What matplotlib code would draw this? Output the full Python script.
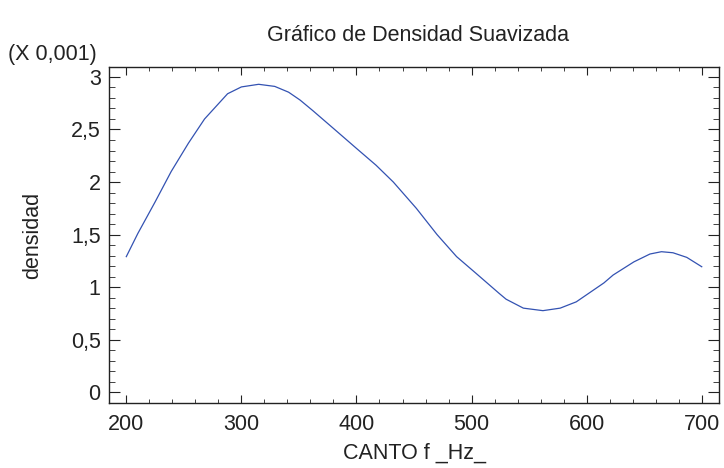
import matplotlib
matplotlib.use("Agg")
import matplotlib.pyplot as plt
from matplotlib.ticker import MultipleLocator, FuncFormatter

plt.rcParams["font.family"] = ["Liberation Sans", "DejaVu Sans"]

# densidad suavizada (en unidades de 0,001)
canto_hz = [200, 210, 225, 239, 254, 268, 288, 300, 315, 329, 341, 351, 362,
            380, 400, 417, 432, 452, 470, 487, 504, 524, 530, 545, 562, 577,
            591, 615, 623, 641, 655, 665, 675, 687, 700]
densidad = [1.29, 1.51, 1.81, 2.10, 2.37, 2.60, 2.84, 2.905, 2.93, 2.91, 2.855,
            2.78, 2.68, 2.51, 2.32, 2.16, 2.00, 1.75, 1.50, 1.29, 1.13, 0.94,
            0.885, 0.80, 0.776, 0.80, 0.86, 1.04, 1.115, 1.24, 1.315, 1.337,
            1.327, 1.283, 1.194]

title = "Gráfico de Densidad Suavizada"
xlabel = "CANTO f _Hz_"
ylabel = "densidad"
scale_note = "(X 0,001)"

FS = 15.5
INK = "#222222"


def comma_fmt(v, pos):
    return f"{v:g}".replace(".", ",")


fig = plt.figure(figsize=(7.24, 4.68), dpi=100)
ax = fig.add_axes([0.1506, 0.1395, 0.8425, 0.7163])

ax.plot(canto_hz, densidad, color="#3352b2", lw=0.9)

ax.set_xlim(185, 715)
ax.set_ylim(-0.1, 3.09)
ax.xaxis.set_major_locator(MultipleLocator(100))
ax.xaxis.set_minor_locator(MultipleLocator(20))
ax.yaxis.set_major_locator(MultipleLocator(0.5))
ax.yaxis.set_minor_locator(MultipleLocator(0.1))
ax.yaxis.set_major_formatter(FuncFormatter(comma_fmt))

ax.tick_params(axis="both", which="both", direction="in", top=True, right=True,
               color=INK, labelsize=FS, labelcolor=INK)
ax.tick_params(axis="x", which="major", length=5.5, pad=8)
ax.tick_params(axis="x", which="minor", length=2.8)
ax.tick_params(axis="y", which="major", length=8, pad=6)
ax.tick_params(axis="y", which="minor", length=4.5)
for sp in ax.spines.values():
    sp.set_linewidth(1.0)
    sp.set_color(INK)

ax.set_xlabel(xlabel, fontsize=FS, color=INK)
ax.set_ylabel(ylabel, fontsize=FS, color=INK)
ax.xaxis.set_label_coords(0.5, -0.118)
ax.yaxis.set_label_coords(-0.108, 0.5)
fig.text(0.5767, 0.912, title, fontsize=FS, color=INK, ha="center", va="baseline")
fig.text(0.011, 0.872, scale_note, fontsize=FS, color=INK, ha="left", va="baseline")

fig.savefig("out.png", dpi=100)
